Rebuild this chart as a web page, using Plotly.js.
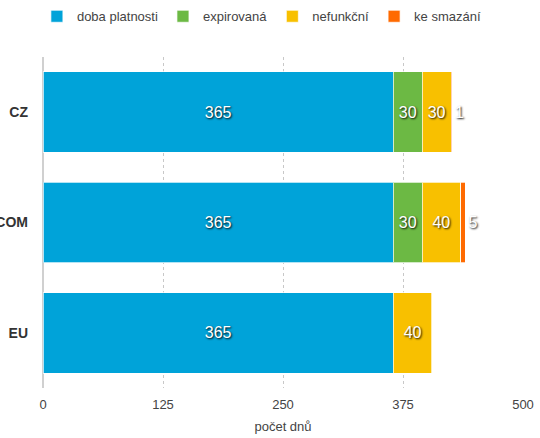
<!DOCTYPE html>
<html>
<head>
<meta charset="utf-8">
<script src="https://cdn.plot.ly/plotly-3.0.1.min.js"></script>
<style>
  html, body { margin: 0; padding: 0; background: #fff; }
  #chart { width: 540px; height: 438px; }
</style>
</head>
<body>
<div id="chart"></div>
<script>
// domény a počty dnů v jednotlivých fázích
const domains = ['CZ', '.COM', 'EU'];
const dobaPlatnosti = [365, 365, 365];
const expirovana = [30, 30, null];
const nefunkcni = [30, 40, 40];
const keSmazani = [1, 5, null];
const xTicks = [0, 125, 250, 375, 500];

const FONT = '"Liberation Sans", Arial, Helvetica, sans-serif';
const LABEL_FONT = {
  family: FONT, size: 16, color: '#ffffff',
  shadow: '1px 1px 2px rgba(0,0,0,0.95)'
};

function barTrace(name, values, color, pos) {
  return {
    type: 'bar', orientation: 'h', name: name,
    y: domains, x: values,
    marker: { color: color, line: { color: 'rgba(255,255,255,0.7)', width: 1 } },
    texttemplate: '%{x}', textposition: pos, insidetextanchor: 'middle',
    textfont: LABEL_FONT, outsidetextfont: LABEL_FONT, insidetextfont: LABEL_FONT,
    constraintext: 'none', cliponaxis: false, hoverinfo: 'name+x'
  };
}

const data = [
  barTrace('doba platnosti', dobaPlatnosti, '#00a3d9', 'inside'),
  barTrace('expirovaná', expirovana, '#6cb944', 'inside'),
  barTrace('nefunkční', nefunkcni, '#f8c000', 'inside'),
  barTrace('ke smazání', keSmazani, '#ff6a00', 'outside')
];

const layout = {
  barmode: 'stack',
  bargap: 0.27,
  width: 540, height: 438,
  paper_bgcolor: '#fff', plot_bgcolor: '#fff',
  font: { family: FONT, size: 13, color: '#444' },
  margin: { l: 43, r: 17, t: 57, b: 50 },
  showlegend: true,
  legend: {
    orientation: 'h', x: 0.485, xanchor: 'center', xref: 'container',
    y: 0.997, yanchor: 'top', yref: 'container',
    font: { family: FONT, size: 13, color: '#444' },
    traceorder: 'normal'
  },
  xaxis: {
    range: [0, 500], tickvals: xTicks, ticktext: xTicks.map(String),
    showgrid: true, gridcolor: '#c8c8c8', griddash: 'dot', gridwidth: 1,
    zeroline: true, zerolinecolor: '#d0d0d0', zerolinewidth: 2,
    ticks: '', ticklabelstandoff: 7,
    tickfont: { family: FONT, size: 13, color: '#444' },
    title: { text: 'počet dnů', font: { family: FONT, size: 13, color: '#444' }, standoff: 10 },
    fixedrange: true
  },
  yaxis: {
    type: 'category', autorange: 'reversed',
    showgrid: false, zeroline: false, showline: false, ticks: '',
    ticklabelstandoff: 14,
    tickfont: { family: FONT, size: 14, color: '#333', weight: 'bold' },
    fixedrange: true
  }
};

Plotly.newPlot('chart', data, layout, { displayModeBar: false, staticPlot: true });
</script>
</body>
</html>
